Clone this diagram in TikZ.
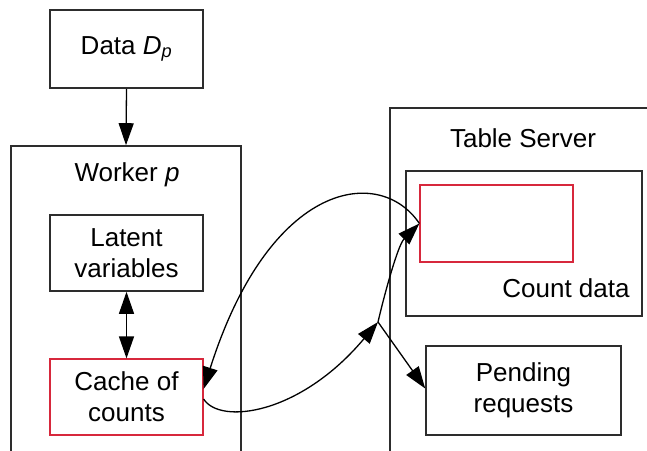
\documentclass[tikz,border=0pt]{standalone}
\usepackage{fontspec}
\setmainfont{Liberation Sans}
\usetikzlibrary{arrows.meta}
\definecolor{boxgray}{RGB}{45,45,45}
\definecolor{boxred}{RGB}{215,40,60}
\begin{document}
\begin{tikzpicture}[x=1pt,y=-1pt,
  font=\fontsize{26}{31}\selectfont,
  box/.style={draw=boxgray,line width=1.6pt,inner sep=0pt,align=center,fill=white},
  redbox/.style={draw=boxred,line width=1.2pt,inner sep=0pt,align=center,fill=white},
  tip/.style={-{Triangle[length=22pt,width=15pt]}},
  dtip/.style={{Triangle[length=22pt,width=15pt]}-{Triangle[length=22pt,width=15pt]}},
  conn/.style={line width=1.3pt,black}]
\clip (0,0) rectangle (647,450);
\fill[white] (0,0) rectangle (647,450);
% containers
\node[box,minimum width=230pt,minimum height=324pt] (worker) at (126,308) {};
\node[box,minimum width=280pt,minimum height=362pt] (server) at (530,289) {};
\node (workerlbl) at (127,175) {Worker \textit{p}};
\node (serverlbl) at (523,138) {Table Server};
% boxes
\node[box,minimum width=153pt,minimum height=78pt] (data) at (126.5,49) {Data \textit{D}\textsubscript{\textit{p}}};
\node[box,minimum width=153pt,minimum height=76pt] (latent) at (126.5,253) {Latent\\variables};
\node[redbox,minimum width=153pt,minimum height=76pt] (cache) at (126.5,397) {Cache of\\counts};
\node[box,minimum width=236pt,minimum height=145pt] (count) at (524,243.5) {};
\node[redbox,minimum width=153pt,minimum height=77pt] (red) at (496.5,223.5) {};
\node (countlbl) at (566,288) {Count data};
\node[box,minimum width=195pt,minimum height=89pt] (pending) at (523.5,390.5) {Pending\\requests};
% connectors
\draw[conn,tip] (data.south) -- (worker.north);
\draw[conn,dtip] (latent.south) -- (cache.north);
\coordinate (j) at (378,322);
\draw[conn,tip] (red.west) .. controls (380,165) and (270,180) .. ([yshift=8pt]cache.east);
\draw[conn,tip] ([yshift=-2pt]cache.east) .. controls (220,425) and (300,415) .. (j);
\draw[conn,tip] (j) .. controls (385,292) and (398,245) .. (red.west);
\draw[conn,tip] (j) -- ([yshift=2pt]pending.west);
\end{tikzpicture}
\end{document}
